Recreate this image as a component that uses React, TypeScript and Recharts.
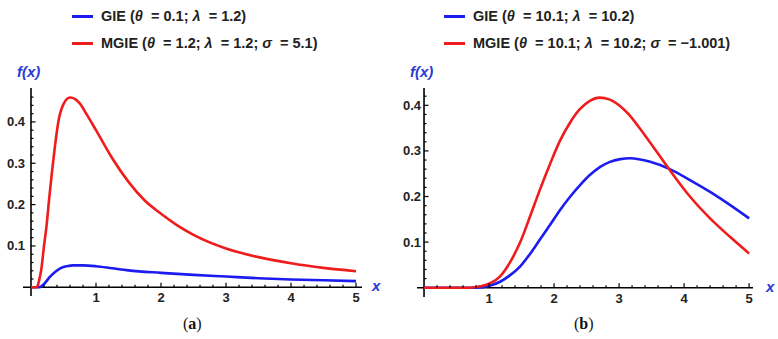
import React from 'react';
import { LineChart, Line, XAxis, YAxis, ReferenceLine } from 'recharts';

// panel (a): GIE(θ=0.1; λ=1.2) and MGIE(θ=1.2; λ=1.2; σ=5.1)
const gieAX = [0, 0.12, 0.2, 0.29, 0.37, 0.45, 0.55, 0.65, 0.8, 1.0, 1.25, 1.5, 2.0, 2.5, 3.0, 3.5, 4.0, 4.5, 5.0];
const gieAY = [0, 0, 0.008, 0.025, 0.037, 0.046, 0.051, 0.053, 0.053, 0.051, 0.046, 0.041, 0.035, 0.03, 0.026, 0.022, 0.019, 0.017, 0.015];
const mgieAX = [0, 0.08, 0.1, 0.13, 0.16, 0.2, 0.24, 0.28, 0.32, 0.36, 0.42, 0.5, 0.6, 0.68, 0.75, 0.85, 1.0, 1.25, 1.5, 1.75, 2.0, 2.25, 2.5, 3.0, 3.5, 4.0, 4.5, 5.0];
const mgieAY = [0, 0, 0.003, 0.02, 0.045, 0.1, 0.15, 0.215, 0.275, 0.33, 0.4, 0.443, 0.459, 0.455, 0.445, 0.42, 0.38, 0.312, 0.255, 0.21, 0.178, 0.15, 0.127, 0.094, 0.073, 0.058, 0.047, 0.039];

// panel (b): GIE(θ=10.1; λ=10.2) and MGIE(θ=10.1; λ=10.2; σ=-1.001)
const gieBX = [0, 0.8, 1.02, 1.17, 1.32, 1.48, 1.63, 1.78, 1.94, 2.09, 2.25, 2.4, 2.55, 2.71, 2.86, 3.02, 3.17, 3.48, 3.78, 4.09, 4.4, 4.71, 5.0];
const gieBY = [0, 0, 0.005, 0.013, 0.027, 0.047, 0.074, 0.105, 0.138, 0.17, 0.2, 0.225, 0.247, 0.265, 0.276, 0.282, 0.284, 0.276, 0.26, 0.236, 0.21, 0.181, 0.152];
const mgieBX = [0, 0.7, 0.86, 1.02, 1.17, 1.32, 1.48, 1.63, 1.78, 1.94, 2.09, 2.25, 2.4, 2.55, 2.7, 2.85, 3.0, 3.15, 3.3, 3.48, 3.78, 4.09, 4.4, 4.71, 5.0];
const mgieBY = [0, 0, 0.003, 0.01, 0.025, 0.055, 0.1, 0.156, 0.214, 0.272, 0.322, 0.363, 0.392, 0.41, 0.417, 0.413, 0.4, 0.38, 0.353, 0.318, 0.258, 0.2, 0.152, 0.111, 0.075];

const xTicks = Array.from({ length: 25 }, (_, i) => +((i + 1) * 0.2).toFixed(1));
const aYTicks = Array.from({ length: 23 }, (_, i) => +((i + 1) * 0.02).toFixed(2));
const bYTicks = Array.from({ length: 21 }, (_, i) => +((i + 1) * 0.02).toFixed(2));

const RED = '#f01c1c';
const BLUE = '#1c1cf0';
const LABEL_BLUE = '#2a3bd8';

const zip = (xs: number[], ys: number[]) => xs.map((x, i) => ({ x, y: ys[i] }));

type Param = [string, string];
interface Series { name: string; params: Param[]; color: string; data: { x: number; y: number }[] }

const panelA: Series[] = [
  { name: 'GIE', params: [['θ', '0.1'], ['λ', '1.2']], color: BLUE, data: zip(gieAX, gieAY) },
  { name: 'MGIE', params: [['θ', '1.2'], ['λ', '1.2'], ['σ', '5.1']], color: RED, data: zip(mgieAX, mgieAY) },
];
const panelB: Series[] = [
  { name: 'GIE', params: [['θ', '10.1'], ['λ', '10.2']], color: BLUE, data: zip(gieBX, gieBY) },
  { name: 'MGIE', params: [['θ', '10.1'], ['λ', '10.2'], ['σ', '−1.001']], color: RED, data: zip(mgieBX, mgieBY) },
];

const sans = '"Liberation Sans", Arial, sans-serif';
const isMajor = (v: number, step: number) => Math.abs(v / step - Math.round(v / step)) < 1e-6;

// axis strips keep a small size so Recharts renders their ticks
const AXIS_W = 20;
const AXIS_H = 20;

interface PanelProps {
  left: number;
  width: number;
  series: Series[];
  plot: { top: number; left: number; right: number; bottom: number };
  xDomain: [number, number];
  yDomain: [number, number];
  yTicks: number[];
  labelGap: number;
  legendLeft: number;
  fxLeft: number;
  xLabelGap: number;
  caption: string;
  captionLeft: number;
}

function Panel(p: PanelProps) {
  const H = 339;
  const plotW = p.width - p.plot.left - p.plot.right;
  const plotH = H - p.plot.top - p.plot.bottom;
  const axisX = p.plot.left + (plotW * (0 - p.xDomain[0])) / (p.xDomain[1] - p.xDomain[0]);
  const axisY = p.plot.top + (plotH * p.yDomain[1]) / (p.yDomain[1] - p.yDomain[0]);
  const margin = { top: p.plot.top, right: p.plot.right, left: p.plot.left - AXIS_W, bottom: p.plot.bottom - AXIS_H };

  const renderXTick = (t: any) => {
    const v = t.payload.value;
    const major = isMajor(v, 1);
    return (
      <g key={`xt-${v}`}>
        <line x1={t.x} x2={t.x} y1={axisY} y2={axisY - (major ? 4.5 : 2.5)} stroke="#000" strokeWidth={1.2} />
        {major && (
          <text x={t.x} y={axisY + 15} textAnchor="middle" fontFamily={sans} fontWeight="bold" fontSize={13} fill="#222">
            {v}
          </text>
        )}
      </g>
    );
  };

  const renderYTick = (t: any) => {
    const v = t.payload.value;
    const major = isMajor(v, 0.1);
    return (
      <g key={`yt-${v}`}>
        <line x1={axisX} x2={axisX + (major ? 4.5 : 2.5)} y1={t.y} y2={t.y} stroke="#000" strokeWidth={1.2} />
        {major && (
          <text x={axisX - p.labelGap} y={t.y + 4.5} textAnchor="end" fontFamily={sans} fontWeight="bold" fontSize={13} fill="#222">
            {v.toFixed(1)}
          </text>
        )}
      </g>
    );
  };

  return (
    <div style={{ position: 'absolute', left: p.left, top: 0, width: p.width, height: H }}>
      {p.series.map((s, i) => (
        <div
          key={s.name}
          style={{
            position: 'absolute', left: p.legendLeft, top: 7 + i * 27, height: 18,
            display: 'flex', alignItems: 'center', whiteSpace: 'pre',
            fontFamily: sans, fontWeight: 'bold', fontSize: 14.5, color: '#222',
          }}
        >
          <span style={{ display: 'inline-block', width: 21, height: 3, background: s.color, marginRight: 8 }} />
          <span>
            {s.name} (
            {s.params.map(([g, val], j) => (
              <React.Fragment key={g}>
                {j > 0 && '; '}
                <i>{g}</i>{'  = '}{val}
              </React.Fragment>
            ))}
            )
          </span>
        </div>
      ))}
      <div
        style={{
          position: 'absolute', left: p.fxLeft, top: 63, fontFamily: sans, fontWeight: 'bold',
          fontStyle: 'italic', fontSize: 15, color: LABEL_BLUE,
        }}
      >
        f(x)
      </div>
      <div
        style={{
          position: 'absolute', left: p.width - p.plot.right + p.xLabelGap, top: axisY - 10, fontFamily: sans,
          fontWeight: 'bold', fontStyle: 'italic', fontSize: 15, color: LABEL_BLUE,
        }}
      >
        x
      </div>
      <div
        style={{
          position: 'absolute', left: p.captionLeft, top: 315, fontFamily: '"Liberation Serif", "DejaVu Serif", serif',
          fontSize: 16, color: '#111',
        }}
      >
        ({<b>{p.caption}</b>})
      </div>
      <LineChart width={p.width} height={H} margin={margin} style={{ position: 'absolute', left: 0, top: 0 }}>
        <XAxis
          dataKey="x"
          type="number"
          domain={p.xDomain}
          ticks={xTicks}
          interval={0}
          height={AXIS_H}
          axisLine={false}
          tickLine={false}
          tick={renderXTick}
          allowDataOverflow
        />
        <YAxis
          type="number"
          domain={p.yDomain}
          ticks={p.yTicks}
          interval={0}
          width={AXIS_W}
          axisLine={false}
          tickLine={false}
          tick={renderYTick}
          allowDataOverflow
        />
        <ReferenceLine x={0} stroke="#000" strokeWidth={1.6} />
        <ReferenceLine y={0} stroke="#000" strokeWidth={1.6} />
        {p.series.map(s => (
          <Line
            key={s.name}
            data={s.data}
            dataKey="y"
            type="monotone"
            stroke={s.color}
            strokeWidth={2.6}
            dot={false}
            activeDot={false}
            isAnimationActive={false}
          />
        ))}
      </LineChart>
    </div>
  );
}

export default function App() {
  return (
    <div style={{ position: 'absolute', left: 0, top: 0, width: 778, height: 339, background: '#fff', overflow: 'hidden' }}>
      <Panel
        left={0}
        width={390}
        series={panelA}
        plot={{ top: 88, left: 23, right: 28, bottom: 43 }}
        xDomain={[-0.123, 5.092]}
        yDomain={[-0.021, 0.482]}
        yTicks={aYTicks}
        labelGap={6}
        legendLeft={72}
        fxLeft={17}
        xLabelGap={10}
        caption="a"
        captionLeft={183}
      />
      <Panel
        left={390}
        width={388}
        series={panelB}
        plot={{ top: 88, left: 27, right: 25, bottom: 42 }}
        xDomain={[-0.108, 5.06]}
        yDomain={[-0.0204, 0.438]}
        yTicks={bYTicks}
        labelGap={3}
        legendLeft={54}
        fxLeft={20}
        xLabelGap={13}
        caption="b"
        captionLeft={184}
      />
    </div>
  );
}
